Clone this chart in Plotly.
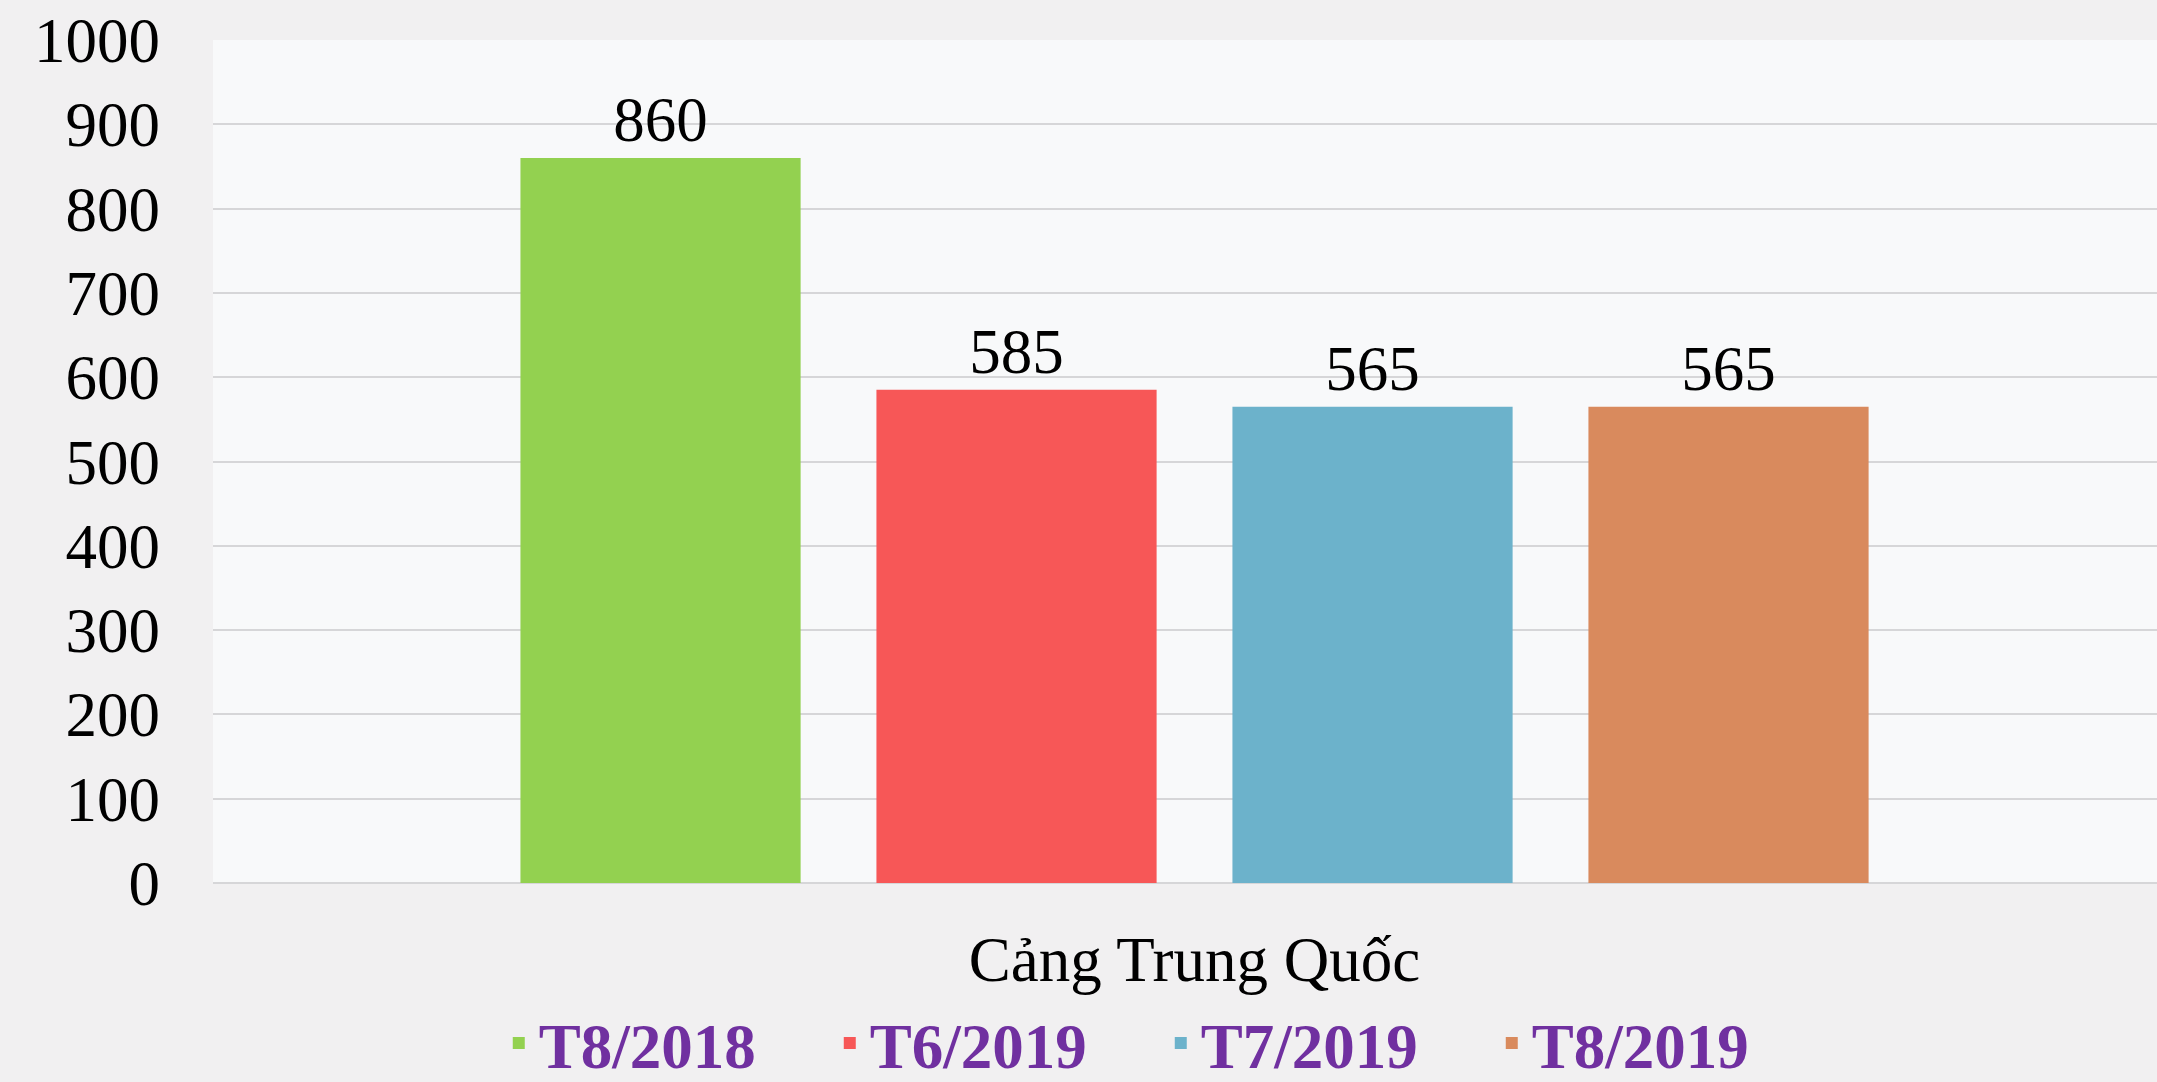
import plotly.graph_objects as go

category = ["Cảng Trung Quốc"]
series_names = ["T8/2018", "T6/2019", "T7/2019", "T8/2019"]
series_values = [860, 585, 565, 565]
series_colors = ["#93d150", "#f75757", "#6cb2cb", "#d98a5d"]
y_ticks = [0, 100, 200, 300, 400, 500, 600, 700, 800, 900, 1000]

SERIF = "Liberation Serif, Times New Roman, serif"
FS = 63

fig = go.Figure()
for name, val, col in zip(series_names, series_values, series_colors):
    fig.add_trace(go.Bar(
        name=name, x=category, y=[val], marker=dict(color=col, line=dict(width=0)),
        text=[str(val)], textposition="outside", cliponaxis=False,
        textfont=dict(family=SERIF, size=FS, color="#000000"),
    ))

fig.update_layout(
    width=2157, height=1082,
    margin=dict(l=213, r=0, t=40, b=199, autoexpand=False),
    paper_bgcolor="#f1f0f1",
    plot_bgcolor="#f8f9fa",
    barmode="group",
    bargap=0.2675,
    bargroupgap=0.213,
    font=dict(family=SERIF, size=FS, color="#000000"),
    showlegend=True,
    legend=dict(
        orientation="h", x=0.147, xanchor="left",
        yref="container", y=0.036, yanchor="middle",
        font=dict(family=SERIF, size=FS, color="#7030a0", weight="bold"),
        entrywidth=286, entrywidthmode="pixels",
        bgcolor="rgba(0,0,0,0)", traceorder="normal",
    ),
    xaxis=dict(
        range=[-0.5049, 0.4951], showgrid=False, showline=False, zeroline=False,
        ticks="", ticklabelstandoff=34,
        tickfont=dict(family=SERIF, size=FS, color="#000000"),
    ),
    yaxis=dict(
        range=[0, 1000], tickvals=y_ticks, ticktext=[str(v) for v in y_ticks],
        showgrid=True, gridcolor="#d6d6d8", gridwidth=2,
        zeroline=True, zerolinecolor="#d6d6d8", zerolinewidth=2,
        showline=False, ticks="", ticklabelstandoff=52,
        tickfont=dict(family=SERIF, size=FS, color="#000000"),
    ),
)

fig.write_html(
    "out.html",
    config={"displayModeBar": False},
    post_script="document.body.style.margin='0';document.body.style.overflow='hidden';",
)
